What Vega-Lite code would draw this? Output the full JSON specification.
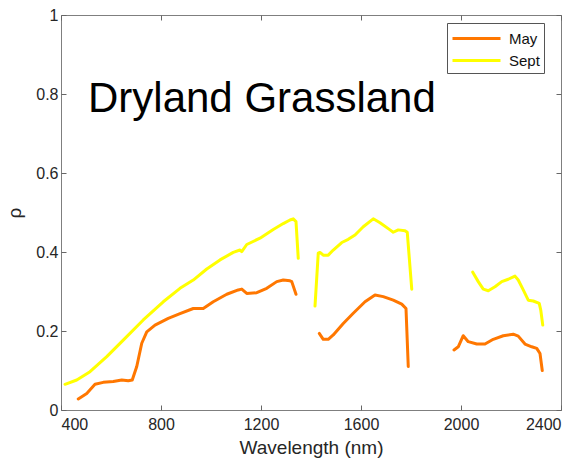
{
  "$schema": "https://vega.github.io/schema/vega-lite/v6.json",
  "width": 500,
  "height": 395,
  "autosize": {"type": "none"},
  "padding": {"left": 61, "top": 15, "right": 18, "bottom": 48},
  "background": "white",
  "config": {
    "font": "Liberation Sans",
    "view": {"stroke": "#7f7f7f", "strokeWidth": 1},
    "axis": {
      "grid": false,
      "domain": false,
      "tickColor": "#666666",
      "tickSize": -5,
      "labelFont": "Liberation Sans",
      "labelFontSize": 16,
      "labelColor": "#262626",
      "titleFont": "Liberation Sans",
      "titleFontSize": 19,
      "titleFontWeight": "normal",
      "titleColor": "#262626"
    }
  },
  "datasets": {
    "spec": [
      {"m": "May", "s": "M1", "x": 469, "y": 0.028},
      {"m": "May", "s": "M1", "x": 503, "y": 0.042},
      {"m": "May", "s": "M1", "x": 536, "y": 0.065},
      {"m": "May", "s": "M1", "x": 569, "y": 0.070},
      {"m": "May", "s": "M1", "x": 609, "y": 0.072},
      {"m": "May", "s": "M1", "x": 643, "y": 0.076},
      {"m": "May", "s": "M1", "x": 669, "y": 0.074},
      {"m": "May", "s": "M1", "x": 685, "y": 0.076},
      {"m": "May", "s": "M1", "x": 703, "y": 0.110},
      {"m": "May", "s": "M1", "x": 723, "y": 0.169},
      {"m": "May", "s": "M1", "x": 743, "y": 0.198},
      {"m": "May", "s": "M1", "x": 776, "y": 0.215},
      {"m": "May", "s": "M1", "x": 829, "y": 0.232},
      {"m": "May", "s": "M1", "x": 876, "y": 0.244},
      {"m": "May", "s": "M1", "x": 929, "y": 0.257},
      {"m": "May", "s": "M1", "x": 969, "y": 0.257},
      {"m": "May", "s": "M1", "x": 1009, "y": 0.274},
      {"m": "May", "s": "M1", "x": 1063, "y": 0.293},
      {"m": "May", "s": "M1", "x": 1109, "y": 0.304},
      {"m": "May", "s": "M1", "x": 1123, "y": 0.306},
      {"m": "May", "s": "M1", "x": 1143, "y": 0.295},
      {"m": "May", "s": "M1", "x": 1183, "y": 0.297},
      {"m": "May", "s": "M1", "x": 1223, "y": 0.308},
      {"m": "May", "s": "M1", "x": 1263, "y": 0.325},
      {"m": "May", "s": "M1", "x": 1289, "y": 0.329},
      {"m": "May", "s": "M1", "x": 1316, "y": 0.327},
      {"m": "May", "s": "M1", "x": 1323, "y": 0.325},
      {"m": "May", "s": "M1", "x": 1340, "y": 0.293},
      {"m": "May", "s": "M2", "x": 1433, "y": 0.194},
      {"m": "May", "s": "M2", "x": 1449, "y": 0.179},
      {"m": "May", "s": "M2", "x": 1469, "y": 0.179},
      {"m": "May", "s": "M2", "x": 1489, "y": 0.190},
      {"m": "May", "s": "M2", "x": 1529, "y": 0.219},
      {"m": "May", "s": "M2", "x": 1569, "y": 0.245},
      {"m": "May", "s": "M2", "x": 1616, "y": 0.274},
      {"m": "May", "s": "M2", "x": 1656, "y": 0.291},
      {"m": "May", "s": "M2", "x": 1689, "y": 0.287},
      {"m": "May", "s": "M2", "x": 1729, "y": 0.278},
      {"m": "May", "s": "M2", "x": 1763, "y": 0.268},
      {"m": "May", "s": "M2", "x": 1780, "y": 0.257},
      {"m": "May", "s": "M2", "x": 1789, "y": 0.110},
      {"m": "May", "s": "M3", "x": 1972, "y": 0.152},
      {"m": "May", "s": "M3", "x": 1989, "y": 0.160},
      {"m": "May", "s": "M3", "x": 2009, "y": 0.188},
      {"m": "May", "s": "M3", "x": 2029, "y": 0.173},
      {"m": "May", "s": "M3", "x": 2063, "y": 0.167},
      {"m": "May", "s": "M3", "x": 2096, "y": 0.167},
      {"m": "May", "s": "M3", "x": 2129, "y": 0.179},
      {"m": "May", "s": "M3", "x": 2169, "y": 0.188},
      {"m": "May", "s": "M3", "x": 2209, "y": 0.192},
      {"m": "May", "s": "M3", "x": 2229, "y": 0.187},
      {"m": "May", "s": "M3", "x": 2256, "y": 0.167},
      {"m": "May", "s": "M3", "x": 2283, "y": 0.160},
      {"m": "May", "s": "M3", "x": 2303, "y": 0.156},
      {"m": "May", "s": "M3", "x": 2316, "y": 0.143},
      {"m": "May", "s": "M3", "x": 2325, "y": 0.100},
      {"m": "Sept", "s": "S1", "x": 416, "y": 0.065},
      {"m": "Sept", "s": "S1", "x": 463, "y": 0.076},
      {"m": "Sept", "s": "S1", "x": 516, "y": 0.097},
      {"m": "Sept", "s": "S1", "x": 583, "y": 0.135},
      {"m": "Sept", "s": "S1", "x": 649, "y": 0.177},
      {"m": "Sept", "s": "S1", "x": 729, "y": 0.228},
      {"m": "Sept", "s": "S1", "x": 809, "y": 0.274},
      {"m": "Sept", "s": "S1", "x": 876, "y": 0.308},
      {"m": "Sept", "s": "S1", "x": 929, "y": 0.329},
      {"m": "Sept", "s": "S1", "x": 983, "y": 0.357},
      {"m": "Sept", "s": "S1", "x": 1036, "y": 0.380},
      {"m": "Sept", "s": "S1", "x": 1089, "y": 0.399},
      {"m": "Sept", "s": "S1", "x": 1116, "y": 0.405},
      {"m": "Sept", "s": "S1", "x": 1123, "y": 0.401},
      {"m": "Sept", "s": "S1", "x": 1143, "y": 0.419},
      {"m": "Sept", "s": "S1", "x": 1196, "y": 0.435},
      {"m": "Sept", "s": "S1", "x": 1249, "y": 0.457},
      {"m": "Sept", "s": "S1", "x": 1289, "y": 0.472},
      {"m": "Sept", "s": "S1", "x": 1316, "y": 0.481},
      {"m": "Sept", "s": "S1", "x": 1329, "y": 0.484},
      {"m": "Sept", "s": "S1", "x": 1340, "y": 0.477},
      {"m": "Sept", "s": "S1", "x": 1349, "y": 0.384},
      {"m": "Sept", "s": "S2", "x": 1416, "y": 0.263},
      {"m": "Sept", "s": "S2", "x": 1429, "y": 0.397},
      {"m": "Sept", "s": "S2", "x": 1436, "y": 0.399},
      {"m": "Sept", "s": "S2", "x": 1449, "y": 0.392},
      {"m": "Sept", "s": "S2", "x": 1469, "y": 0.392},
      {"m": "Sept", "s": "S2", "x": 1489, "y": 0.405},
      {"m": "Sept", "s": "S2", "x": 1523, "y": 0.424},
      {"m": "Sept", "s": "S2", "x": 1549, "y": 0.432},
      {"m": "Sept", "s": "S2", "x": 1576, "y": 0.443},
      {"m": "Sept", "s": "S2", "x": 1609, "y": 0.464},
      {"m": "Sept", "s": "S2", "x": 1649, "y": 0.484},
      {"m": "Sept", "s": "S2", "x": 1676, "y": 0.474},
      {"m": "Sept", "s": "S2", "x": 1716, "y": 0.456},
      {"m": "Sept", "s": "S2", "x": 1729, "y": 0.450},
      {"m": "Sept", "s": "S2", "x": 1749, "y": 0.456},
      {"m": "Sept", "s": "S2", "x": 1776, "y": 0.454},
      {"m": "Sept", "s": "S2", "x": 1785, "y": 0.450},
      {"m": "Sept", "s": "S2", "x": 1803, "y": 0.306},
      {"m": "Sept", "s": "S3", "x": 2047, "y": 0.349},
      {"m": "Sept", "s": "S3", "x": 2069, "y": 0.325},
      {"m": "Sept", "s": "S3", "x": 2089, "y": 0.306},
      {"m": "Sept", "s": "S3", "x": 2109, "y": 0.302},
      {"m": "Sept", "s": "S3", "x": 2136, "y": 0.312},
      {"m": "Sept", "s": "S3", "x": 2163, "y": 0.325},
      {"m": "Sept", "s": "S3", "x": 2189, "y": 0.331},
      {"m": "Sept", "s": "S3", "x": 2216, "y": 0.339},
      {"m": "Sept", "s": "S3", "x": 2229, "y": 0.329},
      {"m": "Sept", "s": "S3", "x": 2249, "y": 0.304},
      {"m": "Sept", "s": "S3", "x": 2269, "y": 0.278},
      {"m": "Sept", "s": "S3", "x": 2289, "y": 0.276},
      {"m": "Sept", "s": "S3", "x": 2313, "y": 0.270},
      {"m": "Sept", "s": "S3", "x": 2319, "y": 0.253},
      {"m": "Sept", "s": "S3", "x": 2327, "y": 0.215}
    ],
    "lab": [
      {"x": 508, "y": 0.754, "t": "Dryland Grassland"}
    ]
  },
  "layer": [
    {
      "data": {"name": "spec"},
      "mark": {"type": "line", "strokeWidth": 3, "strokeCap": "round", "strokeJoin": "round"},
      "encoding": {
        "x": {
          "field": "x", "type": "quantitative",
          "scale": {"domain": [400, 2400], "nice": false, "zero": false},
          "axis": {"orient": "bottom", "values": [400, 800, 1200, 1600, 2000, 2400], "format": "d", "title": "Wavelength (nm)", "labelPadding": 11, "titlePadding": 6}
        },
        "y": {
          "field": "y", "type": "quantitative",
          "scale": {"domain": [0, 1], "nice": false},
          "axis": {"orient": "left", "values": [0, 0.2, 0.4, 0.6, 0.8, 1], "format": "~g", "title": "ρ", "labelPadding": 8, "titlePadding": 11}
        },
        "color": {
          "field": "m", "type": "nominal",
          "scale": {"domain": ["May", "Sept"], "range": ["#FF7700", "#FFFF00"]},
          "legend": {
            "title": null,
            "orient": "none",
            "legendX": 386,
            "legendY": 8,
            "direction": "vertical",
            "strokeColor": "#555555",
            "fillColor": "white",
            "padding": 4,
            "symbolType": "M-1,0H3.8",
            "symbolSize": 400,
            "symbolStrokeWidth": 3,
            "symbolFillColor": "transparent",
            "labelFontSize": 15,
            "labelFont": "Liberation Sans",
            "labelColor": "#111111",
            "labelOffset": 35,
            "rowPadding": 2
          }
        },
        "detail": {"field": "s", "type": "nominal"}
      }
    },
    {
      "data": {"name": "lab"},
      "mark": {"type": "text", "align": "left", "baseline": "alphabetic", "fontSize": 42, "font": "Liberation Sans", "color": "black"},
      "encoding": {
        "x": {"field": "x", "type": "quantitative", "scale": {"domain": [400, 2400], "nice": false, "zero": false}, "axis": {"orient": "top", "values": [400, 800, 1200, 1600, 2000, 2400], "labels": false, "title": null}},
        "y": {"field": "y", "type": "quantitative", "scale": {"domain": [0, 1], "nice": false}, "axis": {"orient": "right", "values": [0, 0.2, 0.4, 0.6, 0.8, 1], "labels": false, "title": null}},
        "text": {"field": "t"}
      }
    }
  ],
  "resolve": {"axis": {"x": "independent", "y": "independent"}}
}
